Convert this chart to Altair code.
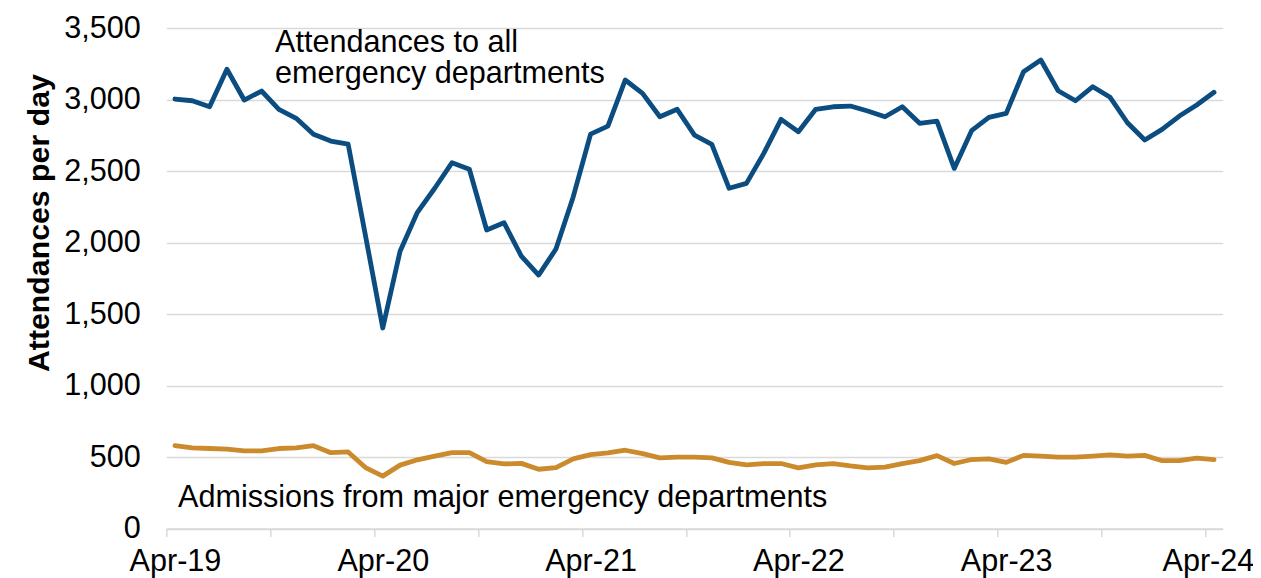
import json
import altair as alt
import pandas as pd

# ---- data (monthly, Apr-19 .. Apr-24) ----
month_index = list(range(61))
attendances = [
    3004, 2992, 2950, 3212, 2997, 3060, 2932, 2869, 2757, 2710, 2689, 2050,
    1403, 1940, 2212, 2380, 2559, 2513, 2088, 2139, 1906, 1773, 1955, 2321,
    2759, 2815, 3137, 3044, 2880, 2932, 2752, 2687, 2380, 2414, 2624, 2862,
    2775, 2932, 2950, 2955, 2920, 2880, 2950, 2834, 2850, 2519, 2783, 2876,
    2904, 3195, 3277, 3062, 2992, 3090, 3016, 2838, 2717, 2792, 2885, 2962,
    3051,
]
admissions = [
    580, 565, 560, 556, 544, 544, 560, 565, 580, 531, 536, 427,
    367, 444, 481, 507, 531, 531, 469, 452, 456, 415, 427, 488,
    517, 529, 548, 524, 495, 500, 500, 495, 463, 445, 455, 455,
    425, 445, 455, 438, 425, 430, 455, 475, 510, 455, 483, 488,
    463, 512, 507, 500, 500, 507, 515, 507, 512, 475, 475, 493,
    483,
]
series_names = ["Attendances to all emergency departments",
                "Admissions from major emergency departments"]
series_colors = ["#0B4D80", "#CB8A2C"]

tick_values = [-0.5 + 6 * k for k in range(11)]
tick_labels = ["Apr-19", "Apr-20", "Apr-21", "Apr-22", "Apr-23", "Apr-24"]
y_ticks = [0, 500, 1000, 1500, 2000, 2500, 3000, 3500]

ann_text = [["Attendances to all", "emergency departments"],
            ["Admissions from major emergency departments"]]
ann_x = [5.78, 0.18]
ann_y = [3335, 151]

FONT = "Liberation Sans"
FS = 30.6

df = pd.DataFrame({
    "m": month_index * 2,
    "v": attendances + admissions,
    "s": [series_names[0]] * 61 + [series_names[1]] * 61,
})
ann = pd.DataFrame({"t": ann_text, "x": ann_x, "y": ann_y})

x_scale = alt.Scale(domain=[-0.5, 60.5], nice=False, zero=False)
y_scale = alt.Scale(domain=[0, 3500], nice=False)

label_expr = ("(datum.value + 0.5) % 12 == 0 ? "
              + json.dumps(tick_labels)
              + "[(datum.value + 0.5) / 12] : ''")

lines = alt.Chart(df).mark_line(strokeWidth=4.8, strokeCap="round",
                                strokeJoin="round").encode(
    x=alt.X("m:Q", scale=x_scale, title=None,
            axis=alt.Axis(values=tick_values, labelExpr=label_expr,
                          labelOffset=alt.condition("datum.value > 59",
                                                    alt.value(2.5),
                                                    alt.value(8.66)),
                          labelPadding=10, labelFlush=False,
                          labelOverlap=False, labelFontSize=FS, labelFont=FONT,
                          labelColor="#000000", grid=False, domain=True,
                          domainColor="#d9d9d9", domainWidth=1.5,
                          tickColor="#d9d9d9", tickWidth=1.5, tickSize=8)),
    y=alt.Y("v:Q", scale=y_scale, title="Attendances per day",
            axis=alt.Axis(values=y_ticks, format=",.0f", labelFontSize=FS,
                          labelFont=FONT, labelColor="#000000",
                          labelPadding=26, domain=False, ticks=False,
                          grid=True, gridColor="#d9d9d9", gridWidth=1.5,
                          titleFont=FONT, titleFontSize=30.3,
                          titleFontWeight="bold", titleColor="#000000",
                          titleAngle=270, titleBaseline="alphabetic",
                          titleX=-118, titleY=194.5)),
    color=alt.Color("s:N", scale=alt.Scale(domain=series_names,
                                           range=series_colors),
                    legend=None),
)

texts = alt.Chart(ann).mark_text(align="left", baseline="alphabetic",
                                 font=FONT, fontSize=FS, color="#000000",
                                 lineHeight=31).encode(
    x=alt.X("x:Q", scale=x_scale),
    y=alt.Y("y:Q", scale=y_scale),
    text="t",
)

chart = alt.layer(lines, texts).properties(
    width=1056.4, height=500.5,
    autosize=alt.AutoSizeParams(type="none"),
    padding={"left": 158.3, "top": 20.1, "right": 30.2, "bottom": 49.4},
).configure_view(stroke=None)

chart.save("out.html", embed_options={"renderer": "svg", "actions": False})
